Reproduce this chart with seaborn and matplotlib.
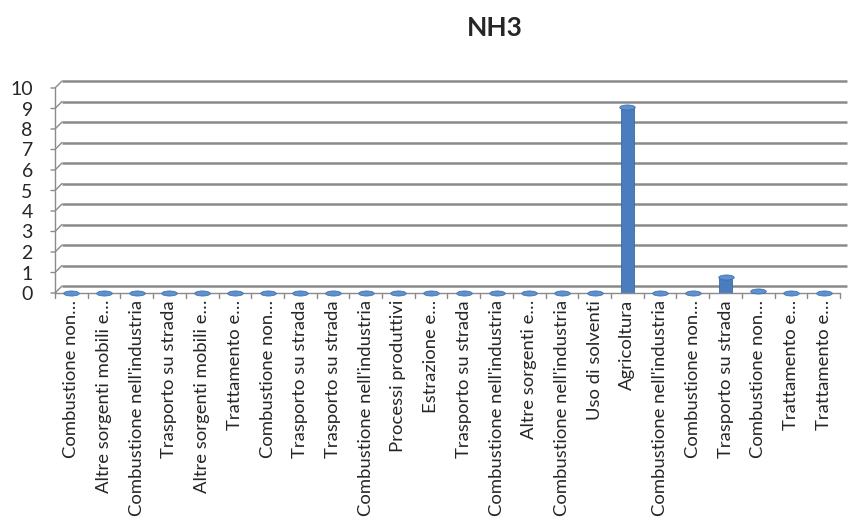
import matplotlib.pyplot as plt
import matplotlib.transforms as mtransforms
from matplotlib.path import Path
import numpy as np
import pandas as pd
import seaborn as sns

categories = [
    "Combustione non…", "Altre sorgenti mobili e…", "Combustione nell'industria",
    "Trasporto su strada", "Altre sorgenti mobili e…", "Trattamento e…",
    "Combustione non…", "Trasporto su strada", "Trasporto su strada",
    "Combustione nell'industria", "Processi produttivi", "Estrazione e…",
    "Trasporto su strada", "Combustione nell'industria", "Altre sorgenti e…",
    "Combustione nell'industria", "Uso di solventi", "Agricoltura",
    "Combustione nell'industria", "Combustione non…", "Trasporto su strada",
    "Combustione non…", "Trattamento e…", "Trattamento e…",
]
values = [
    0.01, 0.01, 0.01, 0.01, 0.01, 0.01,
    0.01, 0.01, 0.01, 0.02, 0.01, 0.01,
    0.02, 0.01, 0.01, 0.02, 0.01, 9.05,
    0.01, 0.01, 0.78, 0.08, 0.01, 0.01,
]
yticks = list(range(0, 11))

df = pd.DataFrame({"idx": range(len(categories)), "cat": categories, "val": values})

sns.set_style("white")
plt.rcParams["font.family"] = ["Lato", "DejaVu Sans"]

fig = plt.figure(figsize=(8.5, 5.27), dpi=100)
ax = fig.add_axes([55 / 850, 234 / 527, 785 / 850, 205 / 527])

blue = "#4a7dbd"
edge = "#3a69a3"
sns.barplot(data=df, x="idx", y="val", color=blue, width=0.4, ax=ax,
            edgecolor=edge, linewidth=0.6, saturation=1)

# elliptical cylinder caps
ellipse = mtransforms.Affine2D().scale(1, 0.33).transform_path(Path.unit_circle())
ax.scatter(df["idx"], df["val"], marker=ellipse, s=125, color="#5d91d2",
           edgecolor=edge, linewidth=0.5, zorder=4, clip_on=False)

ax.set_ylim(0, 10)
ax.set_xlim(-0.5, len(categories) - 0.5)
ax.set_yticks(yticks)
ax.set_xticks(range(len(categories)))
ax.set_xticklabels(categories, rotation=90, fontsize=13.3)
ax.set_xlabel("")
ax.set_ylabel("")
ax.tick_params(axis="y", labelsize=14, pad=16, length=0)
ax.tick_params(axis="x", length=0, pad=5)

for s in ax.spines.values():
    s.set_visible(False)

grey = "#8a8a8a"
# back-wall gridlines shifted like the 3d view
off = mtransforms.offset_copy(ax.transData, fig=fig, x=7, y=7, units="dots")
ax.hlines(yticks, -0.5, len(categories) - 0.5, colors=grey, linewidth=1.8,
          transform=off, zorder=0, clip_on=False)
for t in yticks:
    p0 = ax.transData.transform((-0.5, t))
    ax.plot([p0[0] - 4, p0[0], p0[0] + 7], [p0[1], p0[1], p0[1] + 7],
            transform=None, color=grey, linewidth=1, clip_on=False)
# left wall and floor
ax.plot([-0.5, -0.5], [0, 10], color=grey, linewidth=1, clip_on=False)
ax.plot([-0.5, len(categories) - 0.5], [0, 0], color=grey, linewidth=1, clip_on=False)
for i in range(len(categories) + 1):
    p = ax.transData.transform((i - 0.5, 0))
    ax.plot([p[0], p[0]], [p[1], p[1] - 5], transform=None, color=grey,
            linewidth=1, clip_on=False)

fig.text(495 / 850, 1 - 28 / 527, "NH3", fontsize=19, fontweight="bold",
         ha="center", va="center")

fig.savefig("out.png", dpi=100)
